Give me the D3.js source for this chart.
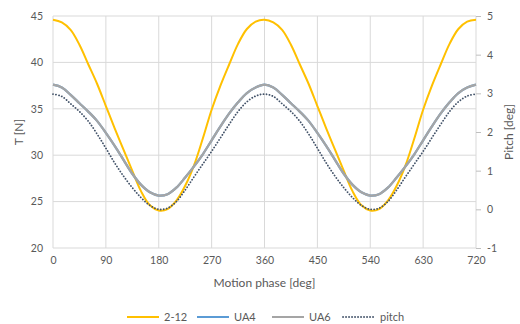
<!DOCTYPE html>
<html>
<head>
<meta charset="utf-8">
<script src="https://cdnjs.cloudflare.com/ajax/libs/d3/7.8.5/d3.min.js"></script>
<style>
	body{margin:0;background:#fff}
	text{font-family:Lato,"Open Sans",sans-serif;fill:#595959}
</style>
</head>
<body>
<script>

var WIDTH=520,
	HEIGHT=324,
	plot={left:53,right:476,top:16,bottom:248}

// motion phase [deg]
var phase=[0,15,30,45,60,75,90,105,120,135,150,165,180,195,210,225,240,255,270,285,300,315,330,345,
	360,375,390,405,420,435,450,465,480,495,510,525,540,555,570,585,600,615,630,645,660,675,690,705,720]

// T [N]
var s212=[44.6,44.3,43.5,41.9,39.8,37.7,35.3,32.9,30.6,28.3,26.1,24.6,24.05,24.2,25.1,26.7,28.9,31.8,34.9,37.5,39.8,42.0,43.6,44.4,
	44.6,44.3,43.5,41.9,39.8,37.7,35.3,32.9,30.6,28.3,26.1,24.6,24.05,24.2,25.1,26.7,28.9,31.8,34.9,37.5,39.8,42.0,43.6,44.4,44.6]
var ua6=[37.6,37.3,36.5,35.6,34.7,33.7,32.4,31.0,29.5,28.0,26.8,26.0,25.65,25.8,26.5,27.6,28.8,30.1,31.6,33.1,34.5,35.7,36.7,37.3,
	37.6,37.3,36.5,35.6,34.7,33.7,32.4,31.0,29.5,28.0,26.8,26.0,25.65,25.8,26.5,27.6,28.8,30.1,31.6,33.1,34.5,35.7,36.7,37.3,37.6]
// UA4 sits under UA6 in the picture
var ua4=ua6.slice()

// pitch [deg], secondary axis
var pitch=[2.98,2.92,2.73,2.53,2.28,1.95,1.58,1.20,0.86,0.56,0.30,0.10,0.00,0.03,0.20,0.50,0.84,1.17,1.50,1.85,2.20,2.53,2.78,2.93,
	2.98,2.92,2.73,2.53,2.28,1.95,1.58,1.20,0.86,0.56,0.30,0.10,0.00,0.03,0.20,0.50,0.84,1.17,1.50,1.85,2.20,2.53,2.78,2.93,2.98]

var xTicks=[0,90,180,270,360,450,540,630,720],
	yTicks=[20,25,30,35,40,45],
	y2Ticks=[-1,0,1,2,3,4,5]

var legendNames=['2-12','UA4','UA6','pitch'],
	colors={'2-12':'#FFC000','UA4':'#5B9BD5','UA6':'#A5A5A5','pitch':'#44546A'}

var xScale=d3.scaleLinear().domain([0,720]).range([plot.left,plot.right])
var yScale=d3.scaleLinear().domain([20,45]).range([plot.bottom,plot.top])
var y2Scale=d3.scaleLinear().domain([-1,5]).range([plot.bottom,plot.top])

var svg=d3.select('body').append('svg')
	.attr('width',WIDTH)
	.attr('height',HEIGHT)

// grid
svg.append('g').selectAll('line').data(yTicks).enter().append('line')
	.attr('x1',plot.left).attr('x2',plot.right)
	.attr('y1',function(d){return yScale(d)}).attr('y2',function(d){return yScale(d)})
	.attr('stroke','#D9D9D9').attr('stroke-width',1)
svg.append('g').selectAll('line').data(xTicks).enter().append('line')
	.attr('x1',function(d){return xScale(d)}).attr('x2',function(d){return xScale(d)})
	.attr('y1',plot.top).attr('y2',plot.bottom)
	.attr('stroke','#D9D9D9').attr('stroke-width',1)

// axes
var plain=function(d){return String(d)}
var xAxis=d3.axisBottom(xScale).tickValues(xTicks).tickFormat(plain).tickSize(0).tickPadding(9)
var yAxis=d3.axisLeft(yScale).tickValues(yTicks).tickFormat(plain).tickSize(0).tickPadding(10)
var y2Axis=d3.axisRight(y2Scale).tickValues(y2Ticks).tickFormat(plain).tickSize(5).tickPadding(6)

var xg=svg.append('g').attr('transform','translate(0,'+plot.bottom+')').call(xAxis)
var yg=svg.append('g').attr('transform','translate('+plot.left+',0)').call(yAxis)
var y2g=svg.append('g').attr('transform','translate('+plot.right+',0)').call(y2Axis)

;[xg,yg,y2g].forEach(function(g){
	g.select('.domain').remove()
	g.selectAll('text').style('font-size','10.5px').attr('fill','#595959')
	g.selectAll('line').attr('stroke','#BFBFBF')
})

// series
var line=function(vals,scale){
	return d3.line()
		.x(function(d,i){return xScale(phase[i])})
		.y(function(d){return scale(d)})
		.curve(d3.curveCatmullRom)(vals)
}

svg.append('path').attr('d',line(s212,yScale))
	.attr('fill','none').attr('stroke',colors['2-12']).attr('stroke-width',2)
svg.append('path').attr('d',line(ua4,yScale))
	.attr('fill','none').attr('stroke',colors['UA4']).attr('stroke-width',2.25)
svg.append('path').attr('d',line(ua6,yScale))
	.attr('fill','none').attr('stroke',colors['UA6']).attr('stroke-width',2.25)
svg.append('path').attr('d',line(pitch,y2Scale))
	.attr('fill','none').attr('stroke',colors['pitch']).attr('stroke-width',1.8)
	.attr('stroke-linecap','round').attr('stroke-dasharray','0.1,2.9')

// titles
svg.append('text').text('Motion phase [deg]')
	.attr('x',(plot.left+plot.right)/2).attr('y',287)
	.attr('text-anchor','middle').style('font-size','12px')
svg.append('text').text('T [N]')
	.attr('transform','translate(23,132) rotate(-90)')
	.attr('text-anchor','middle').style('font-size','12px')
svg.append('text').text('Pitch [deg]')
	.attr('transform','translate(513,132) rotate(-90)')
	.attr('text-anchor','middle').style('font-size','12px')

// legend
var legendX=[127,197,272,343]
var lg=svg.append('g').selectAll('g').data(legendNames).enter().append('g')
	.attr('transform',function(d,i){return 'translate('+legendX[i]+',317)'})
lg.append('line')
	.attr('x1',0).attr('x2',32).attr('y1',0).attr('y2',0)
	.attr('stroke',function(d){return colors[d]})
	.attr('stroke-width',function(d){return d=='pitch'?1.8:2})
	.attr('stroke-linecap',function(d){return d=='pitch'?'round':'butt'})
	.attr('stroke-dasharray',function(d){return d=='pitch'?'0.1,2.9':null})
lg.append('text').text(function(d){return d})
	.attr('x',37).attr('y',4)
	.style('font-size','11px')

</script>
</body>
</html>
